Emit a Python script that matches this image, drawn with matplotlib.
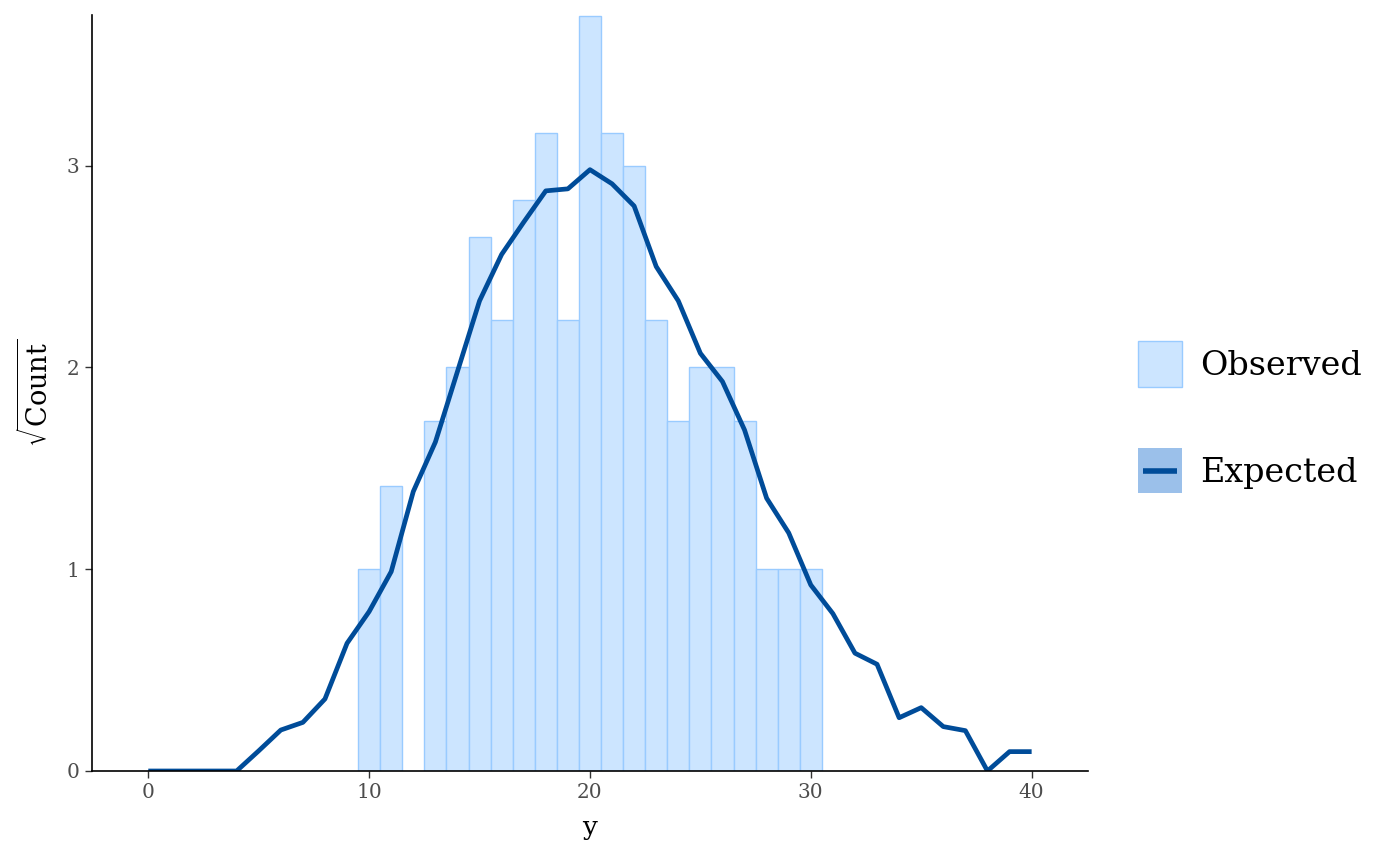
import matplotlib
matplotlib.use("Agg")
import matplotlib.pyplot as plt
from matplotlib.patches import Patch, Rectangle
from matplotlib.lines import Line2D
import numpy as np

plt.rcParams['font.family'] = ['DejaVu Serif']
plt.rcParams['mathtext.fontset'] = 'dejavuserif'

# observed counts (sqrt scale) per integer value
obs_x = [10, 11, 13, 14, 15, 16, 17, 18, 19, 20, 21, 22, 23, 24, 25, 26, 27, 28, 29, 30]
obs_count = [1, 2, 3, 4, 7, 5, 8, 10, 5, 14, 10, 9, 5, 3, 4, 4, 3, 1, 1, 1]

# expected (sqrt of expected count) for 0..40
exp_x = list(range(0, 41))
exp_sqrt = [0, 0, 0, 0, 0, 0.10, 0.203, 0.241, 0.357, 0.633, 0.79, 0.988, 1.385,
            1.63, 1.98, 2.33, 2.56, 2.72, 2.875, 2.885, 2.98, 2.91, 2.80, 2.50,
            2.33, 2.07, 1.93, 1.69, 1.352, 1.18, 0.922, 0.78, 0.584, 0.529,
            0.264, 0.314, 0.22, 0.20, 0.0, 0.096, 0.096]

fill_c = '#cce5ff'
edge_c = '#99cbff'
line_c = '#004c99'
key_c = '#9bc0ea'


class ExpectedKey:
    pass


class ExpectedHandler:
    # filled square with a short line inside, like the ggplot key
    def legend_artist(self, legend, orig_handle, fontsize, handlebox):
        x0, y0 = -handlebox.xdescent, -handlebox.ydescent
        w, h = handlebox.width, handlebox.height
        rect = Rectangle((x0, y0), w, h, facecolor=key_c, edgecolor='none',
                         transform=handlebox.get_transform())
        ln = Line2D([x0 + 0.12 * w, x0 + 0.88 * w], [y0 + h / 2, y0 + h / 2],
                    color=line_c, linewidth=4, solid_capstyle='butt',
                    transform=handlebox.get_transform())
        handlebox.add_artist(rect)
        handlebox.add_artist(ln)
        return rect


fig = plt.figure(figsize=(14, 8.66), dpi=100)
ax = fig.add_axes([0.0657, 0.1097, 0.7114, 0.873])

ax.bar(obs_x, np.sqrt(obs_count), width=1.0, color=fill_c, edgecolor=edge_c, linewidth=1.0)
ax.plot(exp_x, exp_sqrt, color=line_c, linewidth=3.4, solid_capstyle='butt')

ax.set_xlim(-2.55, 42.55)
ax.set_ylim(0, np.sqrt(14) + 0.005)
ax.set_xticks([0, 10, 20, 30, 40])
ax.set_yticks([0, 1, 2, 3])
for s in ['top', 'right']:
    ax.spines[s].set_visible(False)
for s in ['left', 'bottom']:
    ax.spines[s].set_linewidth(1.2)
ax.tick_params(axis='both', colors='#333333', labelcolor='#4d4d4d', labelsize=14.5,
               length=5, width=1.0, direction='out', pad=4)
ax.set_xlabel('y', fontsize=19, labelpad=9)
ax.set_ylabel(r'$\sqrt{\mathrm{Count}}$', fontsize=19.5, labelpad=9)

handles = [Patch(facecolor=fill_c, edgecolor=edge_c), ExpectedKey()]
fig.legend(handles, ['Observed', 'Expected'], loc='center left',
           bbox_to_anchor=(0.8129, 0.518), frameon=False, fontsize=24,
           borderaxespad=0, borderpad=0,
           handlelength=1.32, handleheight=1.71, labelspacing=1.85, handletextpad=0.55,
           handler_map={ExpectedKey: ExpectedHandler()})

fig.savefig('out.png', dpi=100)
